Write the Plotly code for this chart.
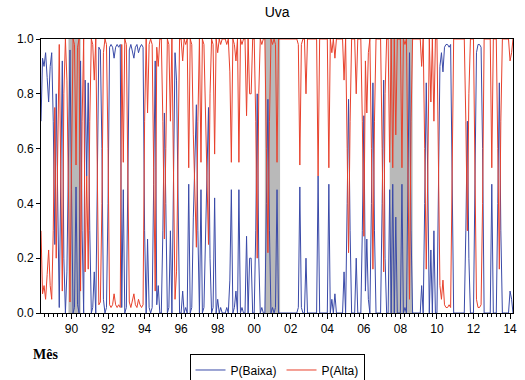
import pandas as pd
import plotly.graph_objects as go

start_month = "1988-05-01"
n_months = 311

p_baixa = [
    0.70,0.93,0.90,0.95,0.86,0.77,0.90,0.95,0.70,0.25,0.80,
    0.30,0.02,0.50,0.92,0.20,0.0,0.15,0.60,0.96,0.45,
    0.0,0.02,0.46,0.03,0.0,0.92,0.30,0.0,0.85,0.50,
    0.84,0.30,0.0,0.02,0.15,0.0,0.60,0.97,0.96,0.60,
    0.05,0.0,0.02,0.40,
    0.97,0.98,0.97,0.93,0.97,0.98,0.97,0.98,
    0.02,0.45,0.0,0.02,0.50,
    0.96,0.98,0.96,0.93,0.97,0.98,0.95,0.97,0.98,0.97,
    0.30,0.0,
    0.27,0.02,0.0,0.02,0.47,0.92,0.03,0.10,0.0,0.0,
    0.30,0.73,0.40,0.0,0.02,0.30,0.0,0.50,0.95,0.85,
    0.30,0.0,0.0,0.08,0.0,0.02,0.0,0.47,0.0,0.02,
    0.35,0.60,0.76,0.30,0.0,0.45,0.0,0.02,0.30,0.60,
    0.75,0.20,0.0,0.02,0.42,0.0,0.05,0.0,0.02,0.0,
    0.0,0.0,0.02,0.0,0.12,0.45,0.0,0.02,0.08,0.0,
    0.45,0.0,0.02,0.0,0.0,0.28,0.0,0.20,0.20,0.0,
    0.0,0.30,0.80,0.20,0.0,0.02,0.0,0.0,0.40,0.78,
    0.30,0.0,0.02,0.0,0.02,0.45,0.0,0.0,0.0,0.0,
    0.0,0.0,0.0,0.0,0.0,0.0,0.0,0.0,0.0,0.02,
    0.46,0.02,0.0,0.0,0.20,0.0,0.0,0.0,0.0,0.0,
    0.0,0.0,0.50,0.0,0.0,0.0,0.0,0.0,0.0,0.47,
    0.0,0.05,0.0,0.07,0.0,0.0,0.0,0.0,0.0,0.15,
    0.0,0.40,0.78,0.30,0.0,0.0,0.0,0.20,0.0,0.0,
    0.0,0.30,0.72,0.08,0.27,0.05,0.0,0.40,0.84,0.30,
    0.0,0.0,0.0,0.0,0.40,0.85,0.20,0.0,0.0,0.45,
    0.0,0.47,0.0,0.35,0.0,0.0,0.0,0.47,0.0,0.02,
    0.0,0.50,0.95,0.30,0.0,0.0,0.0,0.0,0.0,0.0,
    0.10,0.0,0.40,0.84,0.50,0.0,0.23,0.0,0.30,0.0,
    0.0,0.50,0.90,0.95,0.88,0.97,0.98,0.98,0.97,0.98,
    0.50,0.0,0.0,0.0,0.0,0.0,0.0,0.0,0.0,0.30,
    0.70,0.20,0.0,0.0,0.0,0.50,0.95,0.98,0.98,0.97,
    0.60,0.0,0.0,0.0,0.0,0.0,0.47,0.0,0.0,0.0,
    0.40,0.84,0.30,0.0,0.0,0.0,0.0,0.0,0.08,0.05,0.0,
]

p_alta = [
    0.30,0.07,0.10,0.05,0.14,0.23,0.10,0.05,0.30,0.75,0.20,
    0.70,0.98,0.50,0.08,0.80,1.0,0.85,0.40,0.04,0.55,
    1.0,0.98,0.54,0.97,1.0,0.08,0.70,1.0,0.15,0.50,
    0.16,0.70,1.0,0.98,0.85,1.0,0.40,0.03,0.04,0.40,
    0.95,1.0,0.98,0.60,
    0.03,0.02,0.03,0.07,0.03,0.02,0.03,0.02,
    0.98,0.55,1.0,0.98,0.50,
    0.04,0.02,0.04,0.07,0.03,0.02,0.05,0.03,0.02,0.03,
    0.70,1.0,
    0.73,0.98,1.0,0.98,0.53,0.08,0.97,0.90,1.0,1.0,
    0.70,0.27,0.60,1.0,0.98,0.70,1.0,0.50,0.05,0.15,
    0.70,1.0,1.0,0.92,1.0,0.98,1.0,0.53,1.0,0.98,
    0.65,0.40,0.24,0.70,1.0,0.55,1.0,0.98,0.70,0.40,
    0.25,0.80,1.0,0.98,0.58,1.0,0.95,1.0,0.98,1.0,
    1.0,1.0,0.98,1.0,0.88,0.55,1.0,0.98,0.92,1.0,
    0.55,1.0,0.98,1.0,1.0,0.72,1.0,0.80,0.80,1.0,
    1.0,0.70,0.20,0.80,1.0,0.98,1.0,1.0,0.60,0.22,
    0.70,1.0,0.98,1.0,0.98,0.55,1.0,1.0,1.0,1.0,
    1.0,1.0,1.0,1.0,1.0,1.0,1.0,1.0,1.0,0.98,
    0.54,0.98,1.0,1.0,0.80,1.0,1.0,1.0,1.0,1.0,
    1.0,1.0,0.50,1.0,1.0,1.0,1.0,1.0,1.0,0.53,
    1.0,0.95,1.0,0.93,1.0,1.0,1.0,1.0,1.0,0.85,
    1.0,0.60,0.22,0.70,1.0,1.0,1.0,0.80,1.0,1.0,
    1.0,0.70,0.28,0.92,0.73,0.95,1.0,0.60,0.16,0.70,
    1.0,1.0,1.0,1.0,0.60,0.15,0.80,1.0,1.0,0.55,
    1.0,0.53,1.0,0.65,1.0,1.0,1.0,0.53,1.0,0.98,
    1.0,0.50,0.05,0.70,1.0,1.0,1.0,1.0,1.0,1.0,
    0.90,1.0,0.60,0.16,0.50,1.0,0.77,1.0,0.70,1.0,
    1.0,0.50,0.10,0.05,0.12,0.03,0.02,0.02,0.03,0.02,
    0.50,1.0,1.0,1.0,1.0,1.0,1.0,1.0,1.0,0.70,
    0.30,0.80,1.0,1.0,1.0,0.50,0.05,0.02,0.02,0.03,
    0.40,1.0,1.0,1.0,1.0,1.0,0.53,1.0,1.0,1.0,
    0.60,0.16,0.70,1.0,1.0,1.0,1.0,1.0,0.92,0.95,1.0,
]

shade_starts = ["1989-11-01", "2000-08-01", "2007-06-01"]
shade_ends = ["1990-07-01", "2001-06-01", "2008-09-01"]

tick_years = list(range(1990, 2015, 2))
tick_labels = [f"{y % 100:02d}" for y in tick_years]
y_ticks = [0.0, 0.2, 0.4, 0.6, 0.8, 1.0]

dates = pd.date_range(start_month, periods=n_months, freq="MS")

fig = go.Figure()
fig.add_trace(go.Scatter(x=dates, y=p_baixa, mode="lines", name="P(Baixa)",
                         line=dict(color="#3a4aa8", width=1)))
fig.add_trace(go.Scatter(x=dates, y=p_alta, mode="lines", name="P(Alta)",
                         line=dict(color="#e8412c", width=1)))

for s, e in zip(shade_starts, shade_ends):
    fig.add_shape(type="rect", xref="x", yref="paper", x0=s, x1=e, y0=0, y1=1,
                  fillcolor="#b9b9b9", line=dict(width=0), layer="below")

# peach strip at the bottom of the picture
fig.add_shape(type="rect", xref="paper", yref="paper", x0=-0.2, x1=1.1,
              y0=-0.2445, y1=-0.262, fillcolor="#f6e3d6", line=dict(width=0))

fig.update_layout(
    width=525, height=380,
    margin=dict(l=41, r=12, t=39, b=67, autoexpand=False),
    paper_bgcolor="white", plot_bgcolor="white",
    font=dict(family="Arial, Liberation Sans, sans-serif", size=12, color="black"),
    title=dict(text="Uva", x=0.528, xanchor="center", y=0.968, yanchor="middle",
               font=dict(size=14, color="black")),
    showlegend=True,
    legend=dict(orientation="h", x=0.5, xanchor="center", y=-0.208, yanchor="middle",
                bordercolor="black", borderwidth=1, bgcolor="white",
                font=dict(size=12), tracegroupgap=0),
    annotations=[dict(text="<b>Mês</b>", xref="paper", yref="paper", x=0.01, y=-0.153,
                      showarrow=False, xanchor="center", yanchor="middle",
                      font=dict(family="Times New Roman, Liberation Serif, serif", size=14))],
)

fig.update_xaxes(
    automargin=False,
    range=[dates[0], dates[-1]],
    tickmode="array", tickvals=[pd.Timestamp(f"{y}-01-01") for y in tick_years],
    ticktext=tick_labels, ticks="outside", ticklen=5, tickcolor="black",
    showline=True, linecolor="black", linewidth=1, mirror=True,
    showgrid=False, zeroline=False,
    minor=dict(ticks="outside", ticklen=3, tickcolor="black", dtick="M3",
               tick0="1988-01-01", showgrid=False),
)
fig.update_yaxes(
    automargin=False,
    range=[0, 1], tickvals=y_ticks, tickformat=".1f",
    ticks="outside", ticklen=4, tickcolor="black",
    showline=True, linecolor="black", linewidth=1, mirror=True,
    showgrid=False, zeroline=False,
)

fig.write_html("out.html", config={"displayModeBar": False},
               post_script="document.body.style.margin='0';document.body.style.overflow='hidden';")
